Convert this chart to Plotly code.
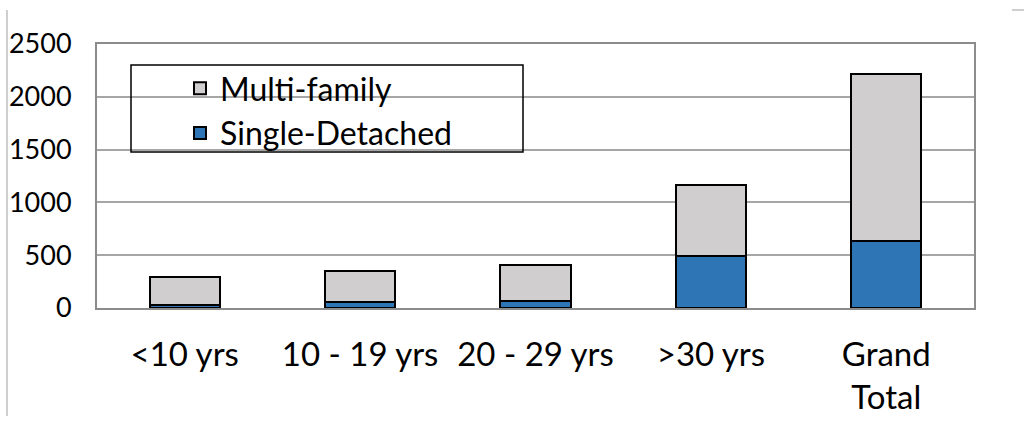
import plotly.graph_objects as go

categories = ["<10 yrs", "10 - 19 yrs", "20 - 29 yrs", ">30 yrs", "Grand<br>Total"]
single_detached = [28, 55, 62, 492, 637]
multi_family = [270, 298, 342, 673, 1583]
y_ticks = [0, 500, 1000, 1500, 2000, 2500]

FONT = "Lato"
W, H = 1024, 421
L, R, T, B = 97, 50, 44, 113
pw, ph = W - L - R, H - T - B

def px_x(x):
    return (x - L) / pw

def px_y(y):
    return (H - B - y) / ph

fig = go.Figure()
fig.add_trace(go.Bar(
    x=categories, y=single_detached, name="Single-Detached",
    marker=dict(color="#2E75B6", line=dict(color="#000000", width=2)),
    width=0.4,
))
fig.add_trace(go.Bar(
    x=categories, y=multi_family, name="Multi-family",
    marker=dict(color="#D0CECE", line=dict(color="#000000", width=2)),
    width=0.4,
))

shapes = [
    dict(type="rect", xref="paper", yref="paper",
         x0=px_x(131), x1=px_x(523), y0=px_y(152), y1=px_y(65),
         line=dict(color="#000000", width=1.5), fillcolor="rgba(0,0,0,0)", layer="above"),
    dict(type="line", xref="paper", yref="paper",
         x0=px_x(7), x1=px_x(7), y0=px_y(10), y1=px_y(416),
         line=dict(color="#BFBFBF", width=1.5)),
    dict(type="line", xref="paper", yref="paper",
         x0=px_x(1012), x1=px_x(1024), y0=px_y(10), y1=px_y(10),
         line=dict(color="#BFBFBF", width=1.5)),
]

fig.update_layout(
    width=W, height=H,
    margin=dict(l=L, r=R, t=T, b=B, pad=0, autoexpand=False),
    barmode="stack",
    plot_bgcolor="white", paper_bgcolor="white",
    font=dict(family=FONT, color="#000000"),
    showlegend=True,
    legend=dict(
        x=px_x(180), y=px_y(61), xanchor="left", yanchor="top",
        traceorder="reversed", bgcolor="rgba(0,0,0,0)",
        font=dict(family=FONT, size=32, color="#000000"),
        borderwidth=0,
    ),
    xaxis=dict(
        showgrid=False, showline=True, linecolor="#8C8C8C", linewidth=2,
        mirror=True, ticks="", tickfont=dict(family=FONT, size=33),
        ticklabelstandoff=16, automargin=False,
    ),
    yaxis=dict(
        range=[0, 2500], tickvals=y_ticks, showgrid=True, gridcolor="#A6A6A6",
        gridwidth=1.5, showline=True, linecolor="#8C8C8C", linewidth=2,
        mirror=True, ticks="", tickfont=dict(family=FONT, size=27),
        ticklabelstandoff=18, zeroline=False, automargin=False,
    ),
    shapes=shapes,
)

fig.write_html(
    "out.html",
    config={"displayModeBar": False},
    post_script="document.body.style.margin='0px';document.body.style.overflow='hidden';",
)
